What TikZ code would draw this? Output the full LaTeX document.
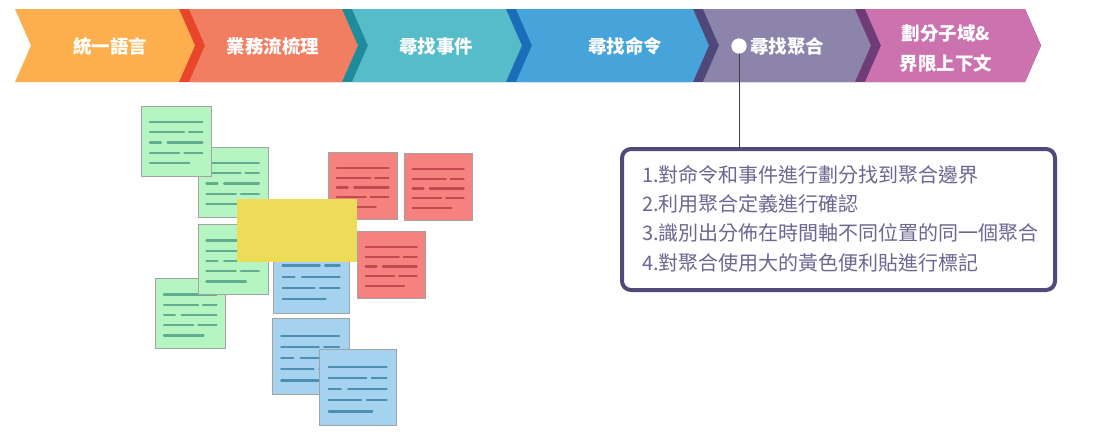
\documentclass[tikz,border=0pt]{standalone}
\usepackage{fontspec}
\newfontfamily\cjk{Noto Sans CJK TC}
\usetikzlibrary{calc}
\definecolor{c1}{HTML}{FCAF4C}
\definecolor{c2}{HTML}{F27E62}
\definecolor{c2d}{HTML}{E8452A}
\definecolor{c3}{HTML}{57BCC9}
\definecolor{c3d}{HTML}{1F8C9E}
\definecolor{c4}{HTML}{47A4DA}
\definecolor{c4d}{HTML}{1A6DB8}
\definecolor{c5}{HTML}{8C84AA}
\definecolor{c5d}{HTML}{50487A}
\definecolor{c6}{HTML}{CC72AE}
\definecolor{c6d}{HTML}{703C78}
\definecolor{boxc}{HTML}{4F4A78}
\definecolor{boxtext}{HTML}{6B6791}
\definecolor{gfill}{HTML}{B4F5C1}
\definecolor{gline}{HTML}{62AD8F}
\definecolor{rfill}{HTML}{F5827F}
\definecolor{rline}{HTML}{C4494E}
\definecolor{bfill}{HTML}{A5D3EF}
\definecolor{bline}{HTML}{4D8FB3}
\definecolor{yfill}{HTML}{EDDC57}
\definecolor{notegray}{HTML}{A3A3A3}
\newcommand\chev[3]{\fill[#3] (#1,9) -- (#2,9) -- ({#2+16},45.5) -- (#2,82) -- (#1,82) -- ({#1+16},45.5) -- cycle;}
\newcommand\stickynote[7]{%
  \node[notebox, fill=#6, minimum width=#4pt, minimum height=#5pt] (#1) at (#2,#3) {};
  \begin{scope}[shift={(#1.north west)}, x=#4pt, y=-#5pt, color=#7, line width=2.3pt, line cap=round]
    \draw (0.12,0.23) -- (0.87,0.23);
    \draw (0.12,0.376) -- (0.6075,0.376) (0.679,0.376) -- (0.87,0.376);
    \draw (0.12,0.522) -- (0.2775,0.522) (0.3735,0.522) -- (0.87,0.522);
    \draw (0.12,0.668) -- (0.54,0.668) (0.612,0.668) -- (0.87,0.668);
    \draw (0.12,0.814) -- (0.684,0.814);
  \end{scope}}
\begin{document}
\begin{tikzpicture}[x=1pt,y=-1pt,
  notebox/.style={anchor=north west, draw=notegray, line width=1pt, inner sep=0pt, outer sep=0pt},
  seglabel/.style={text=white, font=\cjk\bfseries\fontsize{18.5}{30}\selectfont, align=center, inner sep=0pt},
  conn/.style={draw=black!75, line width=1pt}]
\useasboundingbox (0,0) rectangle (1100,440);
% chevrons
\chev{15}{179}{c1}
\chev{179}{342}{c2d}\chev{189}{342}{c2}
\chev{342}{506}{c3d}\chev{352}{506}{c3}
\chev{506}{693}{c4d}\chev{516}{693}{c4}
\chev{693}{855}{c5d}\chev{703}{855}{c5}
\chev{855}{1025}{c6d}\chev{865}{1025}{c6}
\node[seglabel] (t1) at (110,46.5) {統一語言};
\node[seglabel] (t2) at (273,46.5) {業務流梳理};
\node[seglabel] (t3) at (436,46.5) {尋找事件};
\node[seglabel] (t4) at (625,46.5) {尋找命令};
\node[seglabel] (t5) at (787,46.5) {尋找聚合};
\node[seglabel] (t6) at (946,49) {劃分子域\&\\界限上下文};
% callout
\node[draw=boxc, line width=4pt, rounded corners=9pt, fill=white, minimum width=433pt, minimum height=141pt, outer sep=0pt] (box) at (838.5,219.5) {};
\node[circle, fill=white, minimum size=15pt, inner sep=0pt] (dot) at (739,46) {};
\draw[conn] (dot.center) -- (dot.center |- box.north);
\node[circle, fill=white, minimum size=15pt, inner sep=0pt] at (dot.center) {};
\node[anchor=west, align=left, text=boxtext, inner sep=0pt, font=\cjk\fontsize{20}{29.3}\selectfont] (items) at (642,218.5)
 {1.對命令和事件進行劃分找到聚合邊界\\2.利用聚合定義進行確認\\3.識別出分佈在時間軸不同位置的同一個聚合\\4.對聚合使用大的黃色便利貼進行標記};
% sticky notes
\stickynote{g2}{198}{147}{70}{70}{gfill}{gline}
\stickynote{g1}{141.5}{106}{70}{70}{gfill}{gline}
\stickynote{g4}{155.5}{278.5}{70}{70}{gfill}{gline}
\stickynote{g3}{198}{224.5}{70}{70}{gfill}{gline}
\stickynote{r1}{328.5}{152.5}{69}{67}{rfill}{rline}
\stickynote{r2}{404.5}{153.5}{68}{67}{rfill}{rline}
\stickynote{r3}{357.5}{231.5}{68}{67}{rfill}{rline}
\stickynote{b1}{273.5}{237}{76}{76}{bfill}{bline}
\stickynote{b2}{272}{318.5}{77}{76}{bfill}{bline}
\stickynote{b3}{319.5}{349.5}{77}{76}{bfill}{bline}
\node[anchor=north west, fill=yfill, minimum width=120pt, minimum height=63pt, inner sep=0pt, outer sep=0pt] (y1) at (237,199) {};
\end{tikzpicture}
\end{document}
